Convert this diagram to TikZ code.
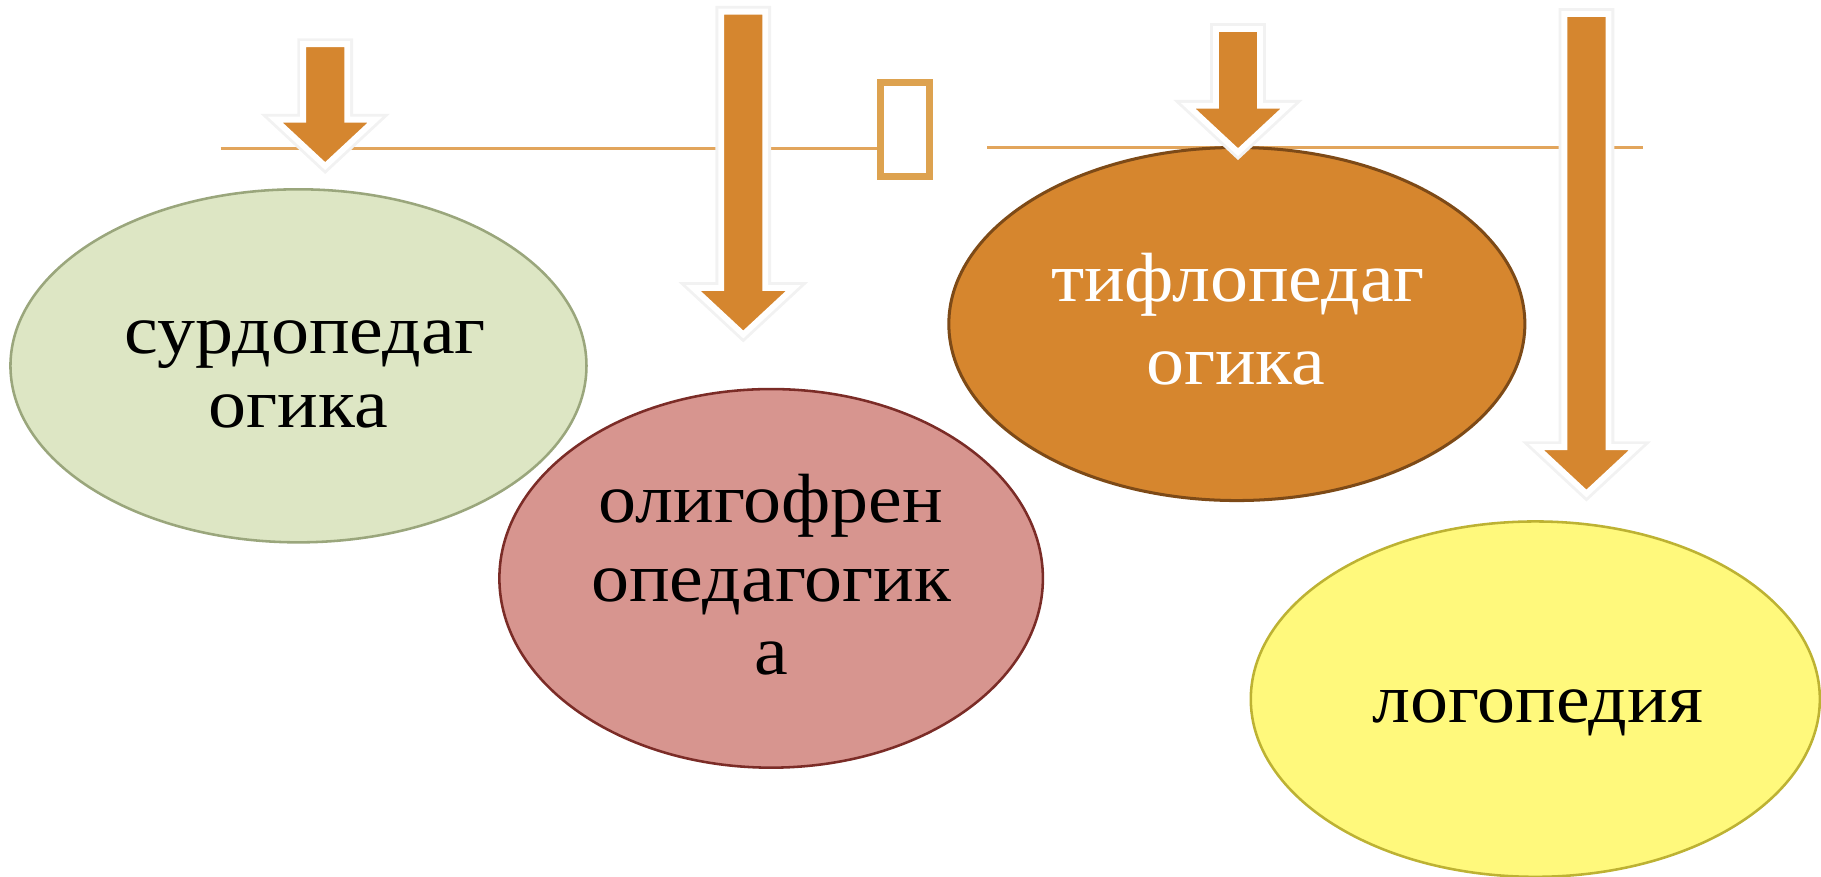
\documentclass[tikz,border=0pt]{standalone}
\usepackage{fontspec}
\setmainfont[FakeStretch=1.09]{Liberation Serif}
\usetikzlibrary{shapes.geometric}
\definecolor{arrowc}{HTML}{D5862F}
\definecolor{linec}{HTML}{E2A55C}
\definecolor{boxc}{HTML}{DDA24F}
\definecolor{gfill}{HTML}{DDE6C4}\definecolor{gdraw}{HTML}{9AA67C}
\definecolor{pfill}{HTML}{D7958F}\definecolor{pdraw}{HTML}{7B2C27}
\definecolor{ofill}{HTML}{D6862E}\definecolor{odraw}{HTML}{7D4A17}
\definecolor{yfill}{HTML}{FFF97C}\definecolor{ydraw}{HTML}{BDB233}
\newcommand{\blkarrow}[3]{%
  \path[draw=black!5, line width=10, line join=miter]
    (#1-19,#3) -- (#1+19,#3) -- (#1+19,#2-40) -- (#1+43,#2-40) -- (#1,#2) -- (#1-43,#2-40) -- (#1-19,#2-40) -- cycle;
  \path[fill=arrowc, draw=white, line width=5, line join=miter]
    (#1-19,#3) -- (#1+19,#3) -- (#1+19,#2-40) -- (#1+43,#2-40) -- (#1,#2) -- (#1-43,#2-40) -- (#1-19,#2-40) -- cycle;}
\begin{document}
\begin{tikzpicture}[x=1pt,y=-1pt,
  lbl/.style={anchor=base, inner sep=0pt, font=\fontsize{60}{66}\selectfont},
  hline/.style={draw=linec, line width=2pt}]
\useasboundingbox (0,0) rectangle (1568,754.3);
% horizontal lines
\coordinate (l1a) at (190,128);
\node[draw=boxc, line width=6pt, minimum width=42pt, minimum height=81pt, inner sep=0pt] (tofu) at (779,111.5) {};
\draw[hline] (l1a) -- (tofu.west |- l1a);
\coordinate (l2a) at (850,127);
\coordinate (l2b) at (1415,127);
\draw[hline] (l2a) -- (l2b);
% ellipses
\path[fill=gfill, draw=gdraw, line width=2.2] (257,315) ellipse [x radius=248, y radius=152];
\path[fill=pfill, draw=pdraw, line width=2.2] (664,498) ellipse [x radius=234, y radius=163];
\path[fill=ofill, draw=odraw, line width=2.6] (1065,279) ellipse [x radius=248, y radius=152];
\path[fill=yfill, draw=ydraw, line width=2.2] (1322,602) ellipse [x radius=245, y radius=153];
% arrows
\blkarrow{280}{143}{38}
\blkarrow{640}{288}{10}
\blkarrow{1066}{131}{25}
\blkarrow{1366}{425}{12}
% labels
\node[lbl] (s1) at (263,304) {сурдопедаг};
\node[lbl] (s2) at (257,368) {огика};
\node[lbl] (o1) at (664,450) {олигофрен};
\node[lbl] (o2) at (664,518) {опедагогик};
\node[lbl] (o3) at (664,581) {а};
\node[lbl, text=white] (t1) at (1066,260) {тифлопедаг};
\node[lbl, text=white] (t2) at (1064,331) {огика};
\node[lbl] (l1) at (1324,622) {логопедия};
\end{tikzpicture}
\end{document}
